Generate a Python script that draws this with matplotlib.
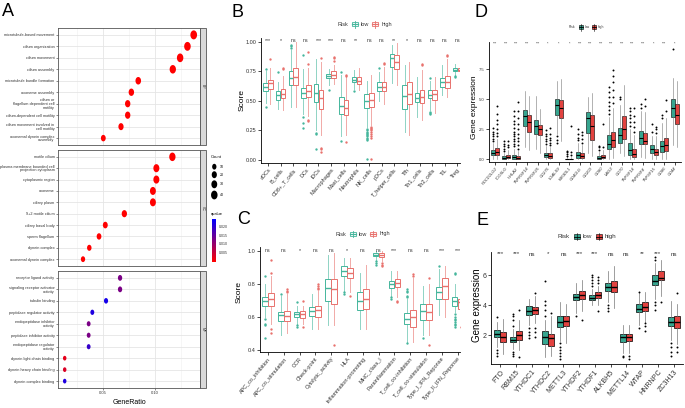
import numpy as np
import matplotlib
matplotlib.use('Agg')
import matplotlib.pyplot as plt
from matplotlib import font_manager
from matplotlib.path import Path
from matplotlib.patches import Rectangle
from matplotlib.colors import LinearSegmentedColormap, Normalize
from matplotlib.cm import ScalarMappable

plt.rcParams['font.family'] = ['Liberation Sans', 'DejaVu Sans']
try:
    font_manager.findfont('Liberation Sans Narrow', fallback_to_default=False)
    NARROW, A_FS = 'Liberation Sans Narrow', 3.2
except ValueError:
    NARROW, A_FS = 'Liberation Sans', 2.75

# ---------------- panel A : GO enrichment ----------------
bp_terms = ['microtubule-based movement', 'cilium organization', 'cilium movement',
            'cilium assembly', 'microtubule bundle formation', 'axoneme assembly',
            'cilium or\nflagellum-dependent cell\nmotility', 'cilium-dependent cell motility',
            'cilium movement involved in\ncell motility', 'axonemal dynein complex\nassembly']
bp_ratio = [0.137, 0.131, 0.124, 0.117, 0.084, 0.0774, 0.0739, 0.0739, 0.0675, 0.0506]
bp_count = [43, 41, 39, 37, 26, 24, 23, 23, 21, 16]
bp_q = [1e-9, 1e-9, 1e-9, 1e-9, 1e-8, 1e-7, 1e-7, 1e-7, 1e-6, 1e-5]

cc_terms = ['motile cilium', 'plasma membrane bounded cell\nprojection cytoplasm',
            'cytoplasmic region', 'axoneme', 'ciliary plasm', '9+2 motile cilium',
            'ciliary basal body', 'sperm flagellum', 'dynein complex', 'axonemal dynein complex']
cc_ratio = [0.1166, 0.1013, 0.1013, 0.098, 0.098, 0.0707, 0.0525, 0.0465, 0.0372, 0.0312]
cc_count = [37, 32, 32, 31, 31, 22, 17, 15, 12, 10]
cc_q = [1e-9, 1e-9, 1e-9, 1e-9, 1e-9, 1e-8, 1e-6, 1e-5, 1e-5, 1e-5]

mf_terms = ['receptor ligand activity', 'signaling receptor activator\nactivity',
            'tubulin binding', 'peptidase regulator activity',
            'endopeptidase inhibitor\nactivity', 'peptidase inhibitor activity',
            'endopeptidase regulator\nactivity', 'dynein light chain binding',
            'dynein heavy chain binding', 'dynein complex binding']
mf_ratio = [0.0666, 0.0666, 0.0532, 0.0401, 0.0366, 0.0366, 0.0366, 0.0137, 0.0137, 0.0137]
mf_count = [10, 10, 8, 6, 5, 5, 5, 2, 2, 2]
mf_q = [0.0125, 0.0125, 0.022, 0.021, 0.0125, 0.0125, 0.019, 0.0025, 0.0035, 0.021]

# ---------------- panel B : immune cells (lo, q1, med, q3, hi) ----------------
b_cells = ['aDCs', 'B_cells', 'CD8+_T_cells', 'DCs', 'iDCs', 'Macrophages', 'Mast_cells',
           'Neutrophils', 'NK_cells', 'pDCs', 'T_helper_cells', 'Tfh', 'Th1_cells',
           'Th2_cells', 'TIL', 'Treg']
b_sig = ['***', '*', 'ns', 'ns', '***', '***', 'ns', '**', 'ns', 'ns', '**', '*',
         'ns', 'ns', 'ns', 'ns']
b_low = [(0.48, 0.58, 0.62, 0.65, 0.75), (0.43, 0.51, 0.55, 0.58, 0.66),
         (0.45, 0.63, 0.69, 0.75, 0.93), (0.39, 0.52, 0.57, 0.61, 0.77),
         (0.25, 0.49, 0.57, 0.64, 0.85), (0.63, 0.69, 0.71, 0.73, 0.77),
         (0.20, 0.39, 0.46, 0.53, 0.72), (0.60, 0.66, 0.68, 0.70, 0.76),
         (0.28, 0.44, 0.50, 0.56, 0.67), (0.50, 0.58, 0.62, 0.66, 0.74),
         (0.65, 0.79, 0.86, 0.90, 0.97), (0.24, 0.43, 0.54, 0.63, 0.80),
         (0.36, 0.49, 0.52, 0.57, 0.70), (0.42, 0.52, 0.55, 0.59, 0.67),
         (0.55, 0.62, 0.66, 0.69, 0.80), (0.72, 0.75, 0.76, 0.78, 0.81)]
b_high = [(0.47, 0.60, 0.65, 0.68, 0.78), (0.42, 0.52, 0.56, 0.60, 0.71),
          (0.45, 0.63, 0.70, 0.78, 1.00), (0.37, 0.53, 0.58, 0.63, 0.78),
          (0.21, 0.43, 0.52, 0.59, 0.83), (0.64, 0.69, 0.72, 0.75, 0.80),
          (0.21, 0.38, 0.44, 0.51, 0.70), (0.59, 0.64, 0.67, 0.70, 0.78),
          (0.30, 0.45, 0.51, 0.57, 0.72), (0.47, 0.58, 0.62, 0.66, 0.79),
          (0.63, 0.77, 0.83, 0.89, 0.99), (0.21, 0.47, 0.56, 0.66, 0.83),
          (0.34, 0.48, 0.53, 0.59, 0.76), (0.40, 0.51, 0.56, 0.59, 0.70),
          (0.53, 0.61, 0.66, 0.71, 0.85), (0.72, 0.75, 0.76, 0.78, 0.80)]
b_low_out = [[0.77, 0.45], [0.74], [0.95, 0.96, 0.97], [0.89, 0.36, 0.31, 0.27],
             [0.23, 0.22, 0.09], [0.59], [0.74, 0.16], [0.58],
             [0.26, 0.25, 0.24, 0.23, 0.22, 0.21, 0.20, 0.19, 0.18, 0.17, 0.01],
             [0.78], [], [], [], [0.69, 0.41, 0.40, 0.39], [], [0.70, 0.71]]
b_high_out = [[0.85], [0.77, 0.78], [], [0.81, 0.91, 0.34, 0.33], [0.86, 0.10, 0.09, 0.07],
              [0.84, 0.86, 0.87], [0.71, 0.72, 0.15], [],
              [0.28, 0.27, 0.26, 0.25, 0.24, 0.22, 0.20, 0.19, 0.01],
              [0.81, 0.82], [], [], [0.80, 0.81], [], [0.88, 0.89], []]

# ---------------- panel C : immune functions ----------------
c_funcs = ['APC_co_inhibition', 'APC_co_stimulation', 'CCR', 'Check-point',
           'Cytolytic_activity', 'HLA', 'Inflammation-promoting', 'MHC_class_I',
           'Parainflammation', 'T_cell_co-inhibition', 'T_cell_co-stimulation',
           'Type_I_IFN_Reponse', 'Type_II_IFN_Reponse']
c_sig = ['ns', 'ns', '*', 'ns', 'ns', '*', 'ns', 'ns', '***', 'ns', 'ns', '***', '***']
c_low = [(0.60, 0.665, 0.70, 0.725, 0.80), (0.49, 0.575, 0.61, 0.63, 0.73),
         (0.56, 0.60, 0.62, 0.63, 0.67), (0.53, 0.605, 0.635, 0.66, 0.74),
         (0.55, 0.70, 0.78, 0.83, 0.98), (0.76, 0.85, 0.88, 0.91, 0.96),
         (0.53, 0.64, 0.70, 0.75, 0.87), (0.95, 0.97, 0.98, 0.99, 1.00),
         (0.73, 0.78, 0.80, 0.82, 0.88), (0.45, 0.555, 0.59, 0.625, 0.71),
         (0.49, 0.585, 0.635, 0.68, 0.79), (0.61, 0.71, 0.75, 0.785, 0.89),
         (0.63, 0.67, 0.70, 0.725, 0.80)]
c_high = [(0.56, 0.67, 0.71, 0.745, 0.85), (0.50, 0.575, 0.605, 0.635, 0.74),
          (0.56, 0.595, 0.62, 0.635, 0.67), (0.53, 0.60, 0.64, 0.67, 0.76),
          (0.55, 0.68, 0.77, 0.83, 0.99), (0.75, 0.835, 0.87, 0.90, 0.96),
          (0.53, 0.65, 0.71, 0.77, 0.92), (0.94, 0.965, 0.98, 0.99, 1.00),
          (0.72, 0.785, 0.81, 0.83, 0.88), (0.45, 0.54, 0.60, 0.645, 0.84),
          (0.49, 0.58, 0.63, 0.68, 0.80), (0.60, 0.71, 0.79, 0.84, 0.91),
          (0.58, 0.65, 0.69, 0.71, 0.78)]
c_low_out = [[0.85, 0.59, 0.56, 0.55, 0.47], [0.74], [0.69, 0.55, 0.54], [], [],
             [0.74, 0.75], [], [0.94, 0.93, 0.92], [0.72, 0.71],
             [0.72, 0.73, 0.75, 0.76, 0.77, 0.44], [0.47], [0.91],
             [0.87, 0.86, 0.62, 0.60, 0.59, 0.58, 0.57, 0.56, 0.55, 0.54]]
c_high_out = [[0.87, 0.95, 0.53, 0.50], [0.75, 0.76, 0.77], [0.70, 0.54],
              [0.77, 0.78, 0.79, 0.80], [0.43], [0.73], [], [0.93, 0.92, 0.91],
              [0.70, 0.69], [0.85, 0.86], [0.84, 0.43], [], [0.54]]

# ---------------- panel D : immune checkpoint genes ----------------
d_genes = ['PDCD1LG2', 'ICOSLG', 'HHLA2', 'TNFRSF14', 'TNFRSF25', 'CD276', 'LGALS9',
           'KIR3DL1', 'CD40LG', 'CD200', 'CD80', 'LAG3', 'CD70', 'TNFSF14', 'TNFRSF4',
           'TNFSF15', 'CD86', 'CD44']
d_sig = ['***', '***', '***', '***', '***', '*', '*', '*', '***', '***', '***', '***',
         '***', '***', '***', '*', '***', '*']
d_low = [(0.0, 0.33, 0.5, 0.75, 1.4), (0.0, 0.05, 0.1, 0.25, 0.55), (0.0, 0.05, 0.2, 0.4, 0.9),
         (1.0, 2.75, 3.6, 4.1, 5.7), (0.9, 2.1, 2.8, 3.25, 5.3), (0.0, 0.2, 0.4, 0.55, 1.1),
         (2.1, 3.7, 4.5, 5.0, 6.5), (0.0, 0.0, 0.02, 0.07, 0.2), (0.0, 0.15, 0.4, 0.65, 1.4),
         (0.5, 2.15, 3.4, 3.9, 5.2), (0.0, 0.05, 0.15, 0.25, 0.6), (0.05, 0.9, 1.3, 2.0, 3.5),
         (0.5, 1.4, 2.0, 2.6, 4.5), (0.0, 0.4, 0.75, 1.35, 2.5), (0.2, 1.3, 1.8, 2.35, 4.0),
         (0.0, 0.5, 0.85, 1.2, 1.9), (0.05, 0.6, 1.1, 1.5, 3.0), (1.2, 3.55, 4.3, 5.0, 6.8)]
d_high = [(0.0, 0.33, 0.65, 0.95, 1.7), (0.0, 0.08, 0.2, 0.4, 0.8), (0.0, 0.05, 0.12, 0.3, 0.7),
          (0.8, 2.3, 3.1, 3.7, 5.3), (0.5, 2.05, 2.5, 2.85, 4.2), (0.0, 0.15, 0.3, 0.5, 1.0),
          (1.5, 3.4, 4.3, 4.9, 6.7), (0.0, 0.0, 0.02, 0.06, 0.2), (0.0, 0.12, 0.3, 0.5, 1.2),
          (0.3, 1.6, 2.8, 3.7, 5.5), (0.0, 0.1, 0.2, 0.4, 0.8), (0.1, 1.05, 1.6, 2.3, 4.3),
          (0.3, 1.65, 2.5, 3.6, 6.2), (0.0, 0.2, 0.45, 0.9, 2.0), (0.1, 1.3, 1.55, 2.2, 3.9),
          (0.0, 0.35, 0.6, 0.9, 1.9), (0.0, 0.7, 1.2, 1.75, 3.4), (1.0, 2.9, 3.7, 4.6, 6.5)]
d_low_out = [[1.5, 1.7, 1.9, 2.1, 2.3, 2.6], [0.7, 0.9, 1.1, 1.3, 1.5],
             [1.1, 1.3, 1.5, 1.7, 1.9, 2.1, 2.3, 2.6, 2.9, 3.2, 3.6, 4.0], [], [],
             [1.3, 1.5, 1.7, 1.9, 2.1, 2.4], [1.9, 1.6, 1.4], [0.3, 0.45, 0.6, 0.7],
             [1.6, 1.8, 2.1, 2.5], [], [0.8, 1.0, 1.1], [3.8, 4.1, 4.4, 4.8, 5.2, 5.6, 6.0],
             [5.0, 5.2], [2.8, 3.1, 3.4, 3.7, 4.0, 4.3], [4.3, 4.6], [2.3, 2.9], [3.4, 3.7],
             [9.2]]
d_high_out = [[1.9, 2.2, 2.5, 2.9, 3.3, 3.8, 4.4], [1.0, 1.2, 1.5],
              [0.9, 1.2, 1.5, 1.8, 2.1, 2.5, 2.9, 3.4, 4.0, 4.8], [], [],
              [1.2, 1.4, 1.6, 1.8, 2.1, 2.6], [], [0.4, 0.6, 2.8], [1.4, 1.7, 2.0, 2.3], [],
              [1.0, 2.9], [4.7, 5.2, 5.8, 6.4, 6.9, 7.4], [], [2.3, 2.7, 3.1, 3.6, 4.3],
              [4.4, 5.0], [2.2, 2.5, 2.7], [4.0, 4.9], []]

# ---------------- panel E : m6A regulators ----------------
e_genes = ['FTO', 'RBM15', 'YTHDC1', 'YTHDC2', 'METTL3', 'YTHDF2', 'YTHDF1', 'ALKBH5',
           'METTL14', 'WTAP', 'HNRNPC', 'ZC3H13']
e_sig = ['***', '***', 'ns', '*', 'ns', '***', '***', 'ns', 'ns', '**', '***', 'ns']
e_low = [(1.2, 1.85, 2.1, 2.33, 2.9), (1.1, 1.55, 1.7, 1.9, 2.4), (2.7, 3.35, 3.6, 3.95, 4.4),
         (0.5, 1.4, 1.9, 2.25, 3.0), (1.6, 2.55, 2.85, 3.25, 4.2), (3.5, 4.35, 4.55, 4.75, 5.5),
         (4.0, 4.33, 4.5, 4.67, 5.1), (4.2, 4.95, 5.2, 5.5, 6.3), (0.8, 1.55, 1.85, 2.05, 2.7),
         (2.7, 3.55, 3.75, 4.1, 4.8), (4.4, 5.33, 5.6, 6.0, 6.8), (1.7, 2.6, 2.9, 3.2, 4.3)]
e_high = [(0.7, 1.55, 1.9, 2.2, 3.1), (1.0, 1.7, 2.0, 2.25, 3.0), (2.8, 3.4, 3.65, 3.9, 4.6),
          (0.6, 1.25, 1.8, 2.1, 3.3), (1.5, 2.6, 2.95, 3.3, 4.1), (3.6, 4.4, 4.7, 4.95, 5.7),
          (4.0, 4.45, 4.65, 4.85, 5.3), (3.8, 4.9, 5.2, 5.6, 6.6), (0.8, 1.6, 1.9, 2.05, 2.7),
          (2.9, 3.6, 3.85, 4.2, 4.9), (4.6, 5.65, 5.8, 6.3, 7.0), (1.4, 2.45, 2.9, 3.3, 4.1)]
e_low_out = [[3.2, 1.0, 0.8, 0.6], [2.6, 3.0, 3.3, 3.4, 0.9, 0.7, 0.6], [2.5, 2.2, 2.0, 1.8],
             [3.3, 3.7, 4.0, 4.3, 5.6], [1.5, 1.2, 1.0, 0.8, 0.6, 0.4], [3.3],
             [5.3, 5.5, 5.7, 5.9, 6.0], [4.0, 3.8, 3.6], [0.6, 0.5], [4.9, 2.5],
             [4.2, 4.0, 3.7, 7.0, 7.2], [1.5, 1.2, 0.9, 0.6]]
e_high_out = [[], [3.7, 0.5], [4.8, 2.5, 2.2, 1.9], [3.5], [], [3.0], [3.6, 5.5, 5.7, 5.9],
              [], [0.6, 0.4], [2.8, 2.6, 2.3], [4.2], [1.2, 0.9, 4.8]]

W, H = 685, 408
TEAL, SALMON = '#45B69C', '#E8716D'
TEAL_F, RED_F = '#36A58F', '#E2423F'
fig = plt.figure(figsize=(W / 100, H / 100), dpi=100)


def px(l, t, r, b):
    return [l / W, 1 - b / H, (r - l) / W, (b - t) / H]


def stats(rows, outs):
    return [dict(whislo=r[0], q1=r[1], med=r[2], q3=r[3], whishi=r[4], fliers=o)
            for r, o in zip(rows, outs)]


def outline_boxes(ax, rows, outs, off, col):
    pos = np.arange(1, len(rows) + 1) + off
    ax.bxp(stats(rows, outs), positions=pos, widths=0.36, patch_artist=True,
           showcaps=False, manage_ticks=False,
           boxprops=dict(facecolor='white', edgecolor=col, linewidth=0.7),
           medianprops=dict(color=col, linewidth=1.0),
           whiskerprops=dict(color=col, linewidth=0.7, alpha=0.6),
           flierprops=dict(marker='o', markerfacecolor=col, markeredgecolor='none',
                           markersize=1.7))


def filled_boxes(ax, rows, outs, off, col, width, lw):
    pos = np.arange(1, len(rows) + 1) + off
    ax.bxp(stats(rows, outs), positions=pos, widths=width, patch_artist=True,
           showcaps=False, manage_ticks=False,
           boxprops=dict(facecolor=col, edgecolor='black', linewidth=lw),
           medianprops=dict(color='black', linewidth=lw * 2),
           whiskerprops=dict(color='#777777', linewidth=lw),
           flierprops=dict(marker='o', markerfacecolor='black', markeredgecolor='none',
                           markersize=1.4))


def classic(ax, labels, fs, italic=False):
    for s in ['top', 'right']:
        ax.spines[s].set_visible(False)
    for s in ['left', 'bottom']:
        ax.spines[s].set_linewidth(0.6)
    ax.set_xticks(np.arange(1, len(labels) + 1))
    ax.set_xticklabels(labels, rotation=50, ha='right', rotation_mode='anchor',
                       fontsize=fs, color='#333333', style='italic' if italic else 'normal')
    ax.tick_params(length=2, width=0.5, pad=1.2, labelsize=fs, labelcolor='#333333')


def dot_size(count):
    return 10 + 0.75 * np.array(count)


# ---- A ----
cmap = LinearSegmentedColormap.from_list('q', ['#FF0000', '#0000FF'])
norm = Normalize(0.0, 0.024)
theta = np.linspace(0, 2 * np.pi, 41)
dot = Path(np.column_stack([0.74 * np.cos(theta), np.sin(theta)]), closed=True)
facets = [(bp_terms, bp_ratio, bp_count, bp_q, 'BP', 28, 145),
          (cc_terms, cc_ratio, cc_count, cc_q, 'CC', 150, 266),
          (mf_terms, mf_ratio, mf_count, mf_q, 'MF', 271, 388)]
for terms, ratio, count, q, tag, top, bot in facets:
    ax = fig.add_axes(px(58, top, 200, bot))
    y = np.arange(len(terms))[::-1]
    ax.scatter(ratio, y, s=dot_size(count), c=q, cmap=cmap, norm=norm,
               marker=dot, linewidths=0, zorder=3)
    ax.set_xlim(0.0073, 0.143)
    ax.set_ylim(-0.6, len(terms) - 0.4)
    ax.set_yticks(y)
    ax.set_yticklabels(terms, fontsize=A_FS, family=NARROW, linespacing=0.9, color='#333333')
    ax.set_xticks([0.05, 0.10])
    ax.set_xticks([0.025, 0.075, 0.125], minor=True)
    ax.grid(True, which='major', color='#E5E5E5', lw=0.6)
    ax.grid(True, which='minor', axis='x', color='#F0F0F0', lw=0.4)
    ax.set_axisbelow(True)
    for s in ax.spines.values():
        s.set_color('#555555')
        s.set_linewidth(0.6)
    ax.tick_params(which='both', length=1.5, width=0.4, pad=1, colors='#333333')
    ax.tick_params(which='minor', length=0)
    if tag == 'MF':
        ax.set_xticklabels(['0.05', '0.10'], fontsize=3, family=NARROW)
    else:
        ax.tick_params(axis='x', which='both', length=0, labelbottom=False)

# ---- B ----
axb = fig.add_axes(px(261, 38, 460, 163))
outline_boxes(axb, b_low, b_low_out, -0.19, TEAL)
outline_boxes(axb, b_high, b_high_out, 0.19, SALMON)
axb.set_xlim(0.45, 16.2)
axb.set_ylim(-0.025, 1.031)
axb.set_yticks([0, 0.25, 0.5, 0.75, 1.0])
axb.set_yticklabels(['0.00', '0.25', '0.50', '0.75', '1.00'])
classic(axb, b_cells, 4)
for i, s in enumerate(b_sig):
    axb.text(i + 1, 1.013, s, ha='center', va='center', fontsize=3.8, color='#333333')

# ---- C ----
axc = fig.add_axes(px(260, 246.5, 460, 351.5))
outline_boxes(axc, c_low, c_low_out, -0.19, TEAL)
outline_boxes(axc, c_high, c_high_out, 0.19, SALMON)
axc.set_xlim(0.5, 13.15)
axc.set_ylim(0.39, 1.03)
axc.set_yticks([0.4, 0.6, 0.8, 1.0])
classic(axc, c_funcs, 4)
for i, s in enumerate(c_sig):
    axc.text(i + 1, 1.006, s, ha='center', va='center', fontsize=3.8, color='#333333')

# ---- D ----
axd = fig.add_axes(px(489, 42, 681, 162))
filled_boxes(axd, d_low, d_low_out, -0.19, TEAL_F, 0.38, 0.4)
filled_boxes(axd, d_high, d_high_out, 0.19, RED_F, 0.38, 0.4)
axd.set_xlim(0.4, 18.6)
axd.set_ylim(-0.22, 9.75)
axd.set_yticks([0, 2.5, 5, 7.5])
axd.set_yticklabels(['0.0', '2.5', '5.0', '7.5'])
classic(axd, d_genes, 3, italic=True)
for i, s in enumerate(d_sig):
    axd.text(i + 1, 9.62, s, ha='center', va='center', fontsize=2.6, color='#333333')

# ---- E ----
axe = fig.add_axes(px(491, 252, 683, 364.3))
filled_boxes(axe, e_low, e_low_out, -0.19, TEAL_F, 0.38, 0.5)
filled_boxes(axe, e_high, e_high_out, 0.19, RED_F, 0.38, 0.5)
axe.set_xlim(0.4, 12.6)
axe.set_ylim(0.044, 7.556)
axe.set_yticks([2, 4, 6])
classic(axe, e_genes, 5)
for i, s in enumerate(e_sig):
    axe.text(i + 1, 7.42, s, ha='center', va='center', fontsize=4.5, color='#333333')

# ---- A legend : colour bar ----
cax = fig.add_axes(px(211.7, 219, 216.5, 261.7))
cb = fig.colorbar(ScalarMappable(norm=norm, cmap=cmap), cax=cax)
cb.set_ticks([0.005, 0.010, 0.015, 0.020])
cb.ax.set_yticklabels(['0.005', '0.010', '0.015', '0.020'], fontsize=2.6, family=NARROW)
cb.outline.set_visible(False)
cax.tick_params(length=0, pad=1.5, colors='#333333')

# ---- overlay in pixel units for labels and legends ----
ov = fig.add_axes([0, 0, 1, 1])
ov.set_xlim(0, W)
ov.set_ylim(H, 0)
ov.axis('off')

for letter, x, y in [('A', 2, 3), ('B', 232, 4), ('C', 237, 211), ('D', 475, 4), ('E', 477, 212)]:
    ov.text(x, y, letter, fontsize=13, ha='left', va='top')

for tag, top, bot in [('BP', 28, 145), ('CC', 150, 266), ('MF', 271, 388)]:
    ov.add_patch(Rectangle((200, top), 6, bot - top, facecolor='#D9D9D9',
                           edgecolor='#555555', lw=0.6))
    ov.text(203, (top + bot) / 2, tag, rotation=270, fontsize=2.6, ha='center',
            va='center', family=NARROW, color='#333333')
ov.text(130, 403, 'GeneRatio', fontsize=5, ha='center', va='center', family=NARROW)

ov.text(211, 156.5, 'Count', fontsize=3, ha='left', va='center', family=NARROW)
legend_counts = [10, 20, 30, 40]
legend_y = [166.7, 174.7, 184.3, 195]
ov.scatter([214.3] * 4, legend_y, s=dot_size(legend_counts), marker=dot,
           color='black', linewidths=0)
for c, yy in zip(legend_counts, legend_y):
    ov.text(219.5, yy, str(c), fontsize=2.6, ha='left', va='center', family=NARROW)
ov.text(211, 213.5, 'qvalue', fontsize=3, ha='left', va='center', family=NARROW)

ov.text(242, 100, 'Score', rotation=90, fontsize=6, ha='center', va='center')
ov.text(239, 292, 'Score', rotation=90, fontsize=6, ha='center', va='center')
ov.text(475, 107, 'Gene expression', rotation=90, fontsize=6, ha='center', va='center')
ov.text(477, 305, 'Gene expression', rotation=90, fontsize=7, ha='center', va='center')


def key(x, y, w, h, face, edge, med, lw):
    ov.plot([x + w / 2] * 2, [y - h / 2 - 1.2, y + h / 2 + 1.2], color=edge, lw=lw)
    ov.add_patch(Rectangle((x, y - h / 2), w, h, facecolor=face, edgecolor=edge, lw=lw))
    ov.plot([x, x + w], [y, y], color=med, lw=lw * 1.5)


def risk_legend(x, y, fs, w, h, lows, highs, filled):
    ov.text(x[0], y, 'Risk', fontsize=fs, ha='left', va='center', color='#333333')
    if filled:
        key(x[1], y, w, h, TEAL_F, 'black', 'black', 0.4)
        key(x[3], y, w, h, RED_F, 'black', 'black', 0.4)
    else:
        key(x[1], y, w, h, 'white', TEAL, TEAL, 0.6)
        key(x[3], y, w, h, 'white', SALMON, SALMON, 0.6)
    ov.text(x[2], y, lows, fontsize=fs, ha='left', va='center', color='#333333')
    ov.text(x[4], y, highs, fontsize=fs, ha='left', va='center', color='#333333')


risk_legend([338, 352, 361, 372, 382], 24.3, 4, 6, 4, 'low', 'high', False)
risk_legend([336, 350, 359, 370, 380], 234, 4, 6, 4, 'low', 'high', False)
risk_legend([569, 579, 584.5, 592, 597.5], 27.3, 2.4, 4, 4, 'low', 'high', True)
risk_legend([558, 574, 583, 596, 605], 236.7, 4.5, 6, 5, 'low', 'high', True)

fig.savefig('out.png', dpi=100)
